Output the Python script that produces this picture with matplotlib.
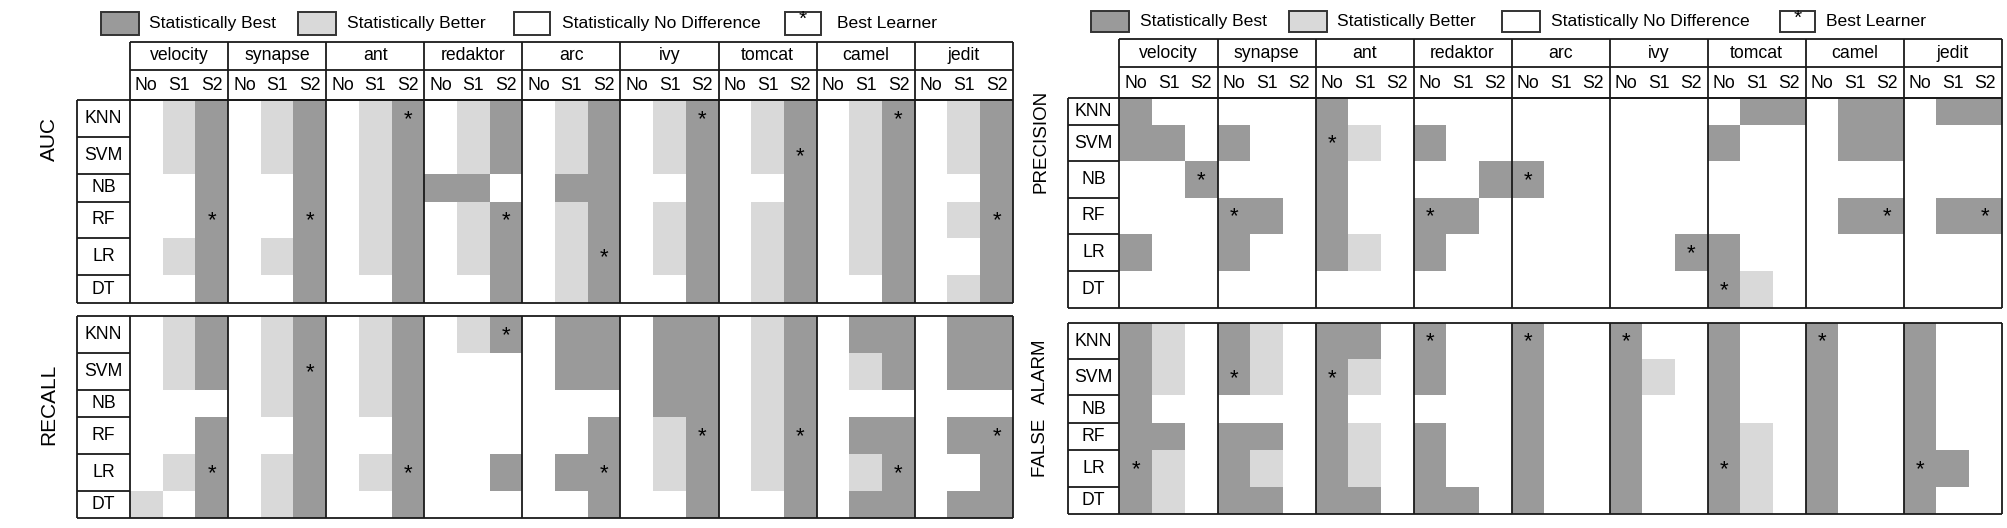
import matplotlib
matplotlib.use("Agg")
import matplotlib.pyplot as plt
import numpy as np
from matplotlib.colors import ListedColormap
from matplotlib.patches import Rectangle

plt.rcParams["font.family"] = ["Liberation Sans", "DejaVu Sans"]

# ---- data -------------------------------------------------------------
DATASETS = ["velocity", "synapse", "ant", "redaktor", "arc",
            "ivy", "tomcat", "camel", "jedit"]
SUBSETS = ["No", "S1", "S2"]
LEARNERS = ["KNN", "SVM", "NB", "RF", "LR", "DT"]
LEGEND = ["Statistically Best", "Statistically Better",
          "Statistically No Difference", "Best Learner"]

# 2 = statistically best, 1 = statistically better, 0 = no difference
# columns: velocity(No,S1,S2) synapse ant redaktor arc ivy tomcat camel jedit
AUC = [
    [0, 1, 2, 0, 1, 2, 0, 1, 2, 0, 1, 2, 0, 1, 2, 0, 1, 2, 0, 1, 2, 0, 1, 2, 0, 1, 2],  # KNN
    [0, 1, 2, 0, 1, 2, 0, 1, 2, 0, 1, 2, 0, 1, 2, 0, 1, 2, 0, 1, 2, 0, 1, 2, 0, 1, 2],  # SVM
    [0, 0, 2, 0, 0, 2, 0, 1, 2, 2, 2, 0, 0, 2, 2, 0, 0, 2, 0, 0, 2, 0, 1, 2, 0, 0, 2],  # NB
    [0, 0, 2, 0, 0, 2, 0, 1, 2, 0, 1, 2, 0, 1, 2, 0, 1, 2, 0, 1, 2, 0, 1, 2, 0, 1, 2],  # RF
    [0, 1, 2, 0, 1, 2, 0, 1, 2, 0, 1, 2, 0, 1, 2, 0, 1, 2, 0, 1, 2, 0, 1, 2, 0, 0, 2],  # LR
    [0, 0, 2, 0, 0, 2, 0, 0, 2, 0, 0, 2, 0, 1, 2, 0, 0, 2, 0, 1, 2, 0, 0, 2, 0, 1, 2],  # DT
]
AUC_BEST = [("RF", "S2"), ("RF", "S2"), ("KNN", "S2"), ("RF", "S2"), ("LR", "S2"),
            ("KNN", "S2"), ("SVM", "S2"), ("KNN", "S2"), ("RF", "S2")]

RECALL = [
    [0, 1, 2, 0, 1, 2, 0, 1, 2, 0, 1, 2, 0, 2, 2, 0, 2, 2, 0, 1, 2, 0, 2, 2, 0, 2, 2],  # KNN
    [0, 1, 2, 0, 1, 2, 0, 1, 2, 0, 0, 0, 0, 2, 2, 0, 2, 2, 0, 1, 2, 0, 1, 2, 0, 2, 2],  # SVM
    [0, 0, 0, 0, 1, 2, 0, 1, 2, 0, 0, 0, 0, 0, 0, 0, 2, 2, 0, 1, 2, 0, 0, 0, 0, 0, 0],  # NB
    [0, 0, 2, 0, 0, 2, 0, 0, 2, 0, 0, 0, 0, 0, 2, 0, 1, 2, 0, 1, 2, 0, 2, 2, 0, 2, 2],  # RF
    [0, 1, 2, 0, 1, 2, 0, 1, 2, 0, 0, 2, 0, 2, 2, 0, 1, 2, 0, 1, 2, 0, 1, 2, 0, 0, 2],  # LR
    [1, 0, 2, 0, 1, 2, 0, 0, 2, 0, 0, 0, 0, 0, 2, 0, 0, 2, 0, 0, 2, 0, 2, 2, 0, 2, 2],  # DT
]
RECALL_BEST = [("LR", "S2"), ("SVM", "S2"), ("LR", "S2"), ("KNN", "S2"), ("LR", "S2"),
               ("RF", "S2"), ("RF", "S2"), ("LR", "S2"), ("RF", "S2")]

PRECISION = [
    [2, 0, 0, 0, 0, 0, 2, 0, 0, 0, 0, 0, 0, 0, 0, 0, 0, 0, 0, 2, 2, 0, 2, 2, 0, 2, 2],  # KNN
    [2, 2, 0, 2, 0, 0, 2, 1, 0, 2, 0, 0, 0, 0, 0, 0, 0, 0, 2, 0, 0, 0, 2, 2, 0, 0, 0],  # SVM
    [0, 0, 2, 0, 0, 0, 2, 0, 0, 0, 0, 2, 2, 0, 0, 0, 0, 0, 0, 0, 0, 0, 0, 0, 0, 0, 0],  # NB
    [0, 0, 0, 2, 2, 0, 2, 0, 0, 2, 2, 0, 0, 0, 0, 0, 0, 0, 0, 0, 0, 0, 2, 2, 0, 2, 2],  # RF
    [2, 0, 0, 2, 0, 0, 2, 1, 0, 2, 0, 0, 0, 0, 0, 0, 0, 2, 2, 0, 0, 0, 0, 0, 0, 0, 0],  # LR
    [0, 0, 0, 0, 0, 0, 0, 0, 0, 0, 0, 0, 0, 0, 0, 0, 0, 0, 2, 1, 0, 0, 0, 0, 0, 0, 0],  # DT
]
PRECISION_BEST = [("NB", "S2"), ("RF", "No"), ("SVM", "No"), ("RF", "No"), ("NB", "No"),
                  ("LR", "S2"), ("DT", "No"), ("RF", "S2"), ("RF", "S2")]

FALSE_ALARM = [
    [2, 1, 0, 2, 1, 0, 2, 2, 0, 2, 0, 0, 2, 0, 0, 2, 0, 0, 2, 0, 0, 2, 0, 0, 2, 0, 0],  # KNN
    [2, 1, 0, 2, 1, 0, 2, 1, 0, 2, 0, 0, 2, 0, 0, 2, 1, 0, 2, 0, 0, 2, 0, 0, 2, 0, 0],  # SVM
    [2, 0, 0, 0, 0, 0, 2, 0, 0, 0, 0, 0, 2, 0, 0, 2, 0, 0, 2, 0, 0, 2, 0, 0, 2, 0, 0],  # NB
    [2, 2, 0, 2, 2, 0, 2, 1, 0, 2, 0, 0, 2, 0, 0, 2, 0, 0, 2, 1, 0, 2, 0, 0, 2, 0, 0],  # RF
    [2, 1, 0, 2, 1, 0, 2, 1, 0, 2, 0, 0, 2, 0, 0, 2, 0, 0, 2, 1, 0, 2, 0, 0, 2, 2, 0],  # LR
    [2, 1, 0, 2, 2, 0, 2, 2, 0, 2, 2, 0, 2, 0, 0, 2, 0, 0, 2, 1, 0, 2, 0, 0, 2, 0, 0],  # DT
]
FALSE_ALARM_BEST = [("LR", "No"), ("SVM", "No"), ("SVM", "No"), ("KNN", "No"), ("KNN", "No"),
                    ("KNN", "No"), ("LR", "No"), ("KNN", "No"), ("LR", "No")]

# ---- style / layout (pixels of the 2008x528 canvas) -----------------------
DARK = "#9a9a9a"
LIGHT = "#d9d9d9"
EDGE = "#1a1a1a"
LW = 1.3
CMAP = ListedColormap(["white", LIGHT, DARK])


def draw_legend(ax, boxes, texts_x, box_y):
    fills = [DARK, LIGHT, "white", "white"]
    for (x0, x1), tx, fill, label in zip(boxes, texts_x, fills, LEGEND):
        ax.add_patch(Rectangle((x0, box_y[0]), x1 - x0, box_y[1] - box_y[0],
                               facecolor=fill, edgecolor="#333333", lw=1.4))
        if label == "Best Learner":
            ax.text((x0 + x1) / 2, box_y[0] + 7, "*", ha="center", va="center",
                    fontsize=15)
        ax.text(tx, (box_y[0] + box_y[1]) / 2, label, ha="left", va="center",
                fontsize=12.6)


def draw_header(ax, x_data, col_w, y_top, y_sub, y_rows):
    x_end = x_data + col_w * len(DATASETS)
    ax.hlines([y_top, y_sub, y_rows], x_data, x_end, color=EDGE, lw=LW)
    for i, name in enumerate(DATASETS):
        xc = x_data + (i + 0.5) * col_w
        ax.text(xc, (y_top + y_sub) / 2, name, ha="center", va="center",
                fontsize=12.7)
        for j, sub in enumerate(SUBSETS):
            xs = x_data + i * col_w + (j + 0.5) * col_w / 3
            ax.text(xs, (y_sub + y_rows) / 2 + 1, sub, ha="center", va="center",
                    fontsize=12.7)
    ax.vlines(x_data + col_w * np.arange(len(DATASETS) + 1), y_top, y_rows,
              color=EDGE, lw=LW)


def draw_panel(ax, grid, best, row_edges, x_label, x_data, col_w,
               title, title_xy, title_size):
    sub_w = col_w / 3
    x_edges = x_data + sub_w * np.arange(len(DATASETS) * 3 + 1)
    y_edges = np.asarray(row_edges)
    ax.pcolormesh(x_edges, y_edges, np.asarray(grid), cmap=CMAP,
                  vmin=-0.5, vmax=2.5, shading="flat", antialiased=False)

    # best learner marks
    for i, (learner, sub) in enumerate(best):
        r = LEARNERS.index(learner)
        c = i * 3 + SUBSETS.index(sub)
        ax.text(x_edges[c] + sub_w / 2, (y_edges[r] + y_edges[r + 1]) / 2 + 1,
                "*", ha="center", va="center", fontsize=16)

    # learner label column
    for r, name in enumerate(LEARNERS):
        ax.text((x_label + x_data) / 2, (y_edges[r] + y_edges[r + 1]) / 2,
                name, ha="center", va="center", fontsize=12.7)
    ax.hlines(y_edges, x_label, x_data, color=EDGE, lw=LW)
    ax.hlines([y_edges[0], y_edges[-1]], x_data, x_edges[-1], color=EDGE, lw=LW)
    ax.vlines([x_label], y_edges[0], y_edges[-1], color=EDGE, lw=LW)
    ax.vlines(x_data + col_w * np.arange(len(DATASETS) + 1), y_edges[0],
              y_edges[-1], color=EDGE, lw=LW)

    ax.text(title_xy[0], title_xy[1], title, rotation=90, ha="center",
            va="center", fontsize=title_size)


def main():
    fig = plt.figure(figsize=(20.08, 5.28), dpi=100)
    ax = fig.add_axes([0, 0, 1, 1])
    ax.set_xlim(0, 2008)
    ax.set_ylim(528, 0)
    ax.axis("off")

    # left half: AUC / RECALL
    lx_label, lx_data, lcol = 77.5, 130.0, 98.1
    draw_legend(ax, [(101, 139), (298, 336), (514, 550), (785, 821)],
                [149, 347, 562, 837], (12, 35))
    draw_header(ax, lx_data, lcol, 42, 69.5, 100)
    draw_panel(ax, AUC, AUC_BEST, [100, 137, 174, 201.7, 238.3, 275, 303],
               lx_label, lx_data, lcol, "AUC", (49, 139), 15)
    draw_panel(ax, RECALL, RECALL_BEST, [316, 352.7, 389.7, 417, 454, 490.7, 518.3],
               lx_label, lx_data, lcol, "RECALL", (49, 404), 15)

    # right half: PRECISION / FALSE ALARM
    rx_label, rx_data, rcol = 1068.0, 1119.5, 98.02
    draw_legend(ax, [(1091, 1129), (1289, 1327), (1502, 1540), (1780, 1815)],
                [1140, 1337, 1551, 1826], (11, 32))
    draw_header(ax, rx_data, rcol, 39.3, 66.7, 97.7)
    draw_panel(ax, PRECISION, PRECISION_BEST,
               [97.7, 125, 161, 197.7, 234.3, 271, 308.3],
               rx_label, rx_data, rcol, "PRECISION", (1041, 141), 13.5)
    draw_panel(ax, FALSE_ALARM, FALSE_ALARM_BEST,
               [322.7, 359.3, 395.3, 422.7, 450, 486.7, 514],
               rx_label, rx_data, rcol, "FALSE   ALARM", (1041, 408), 13.5)

    fig.savefig("out.png", dpi=100)
    plt.close(fig)


if __name__ == "__main__":
    main()
